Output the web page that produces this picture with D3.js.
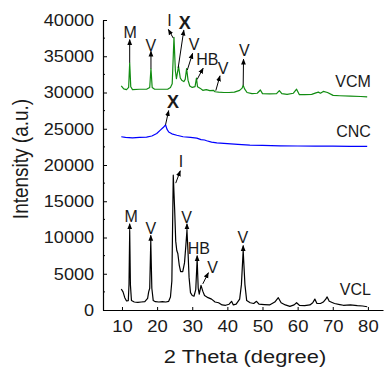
<!DOCTYPE html>
<html>
<head>
<meta charset="utf-8">
<script src="https://cdn.jsdelivr.net/npm/d3@7/dist/d3.min.js"></script>
<style>
  body { margin: 0; background: #fff; }
  text { font-family: Arial, "Liberation Sans", sans-serif; fill: #1a1a1a; }
</style>
</head>
<body>
<div id="container"></div>
<script>
// [2 theta, intensity]
const vcl = [
  [9.8,2900],[10.3,2500],[10.8,1700],[11.3,1250],[11.8,1300],[12.0,3500],[12.2,10900],[12.4,3500],
  [12.7,1300],[13.5,1100],[14.5,1050],[15.5,1100],[16.5,1150],[17.3,1600],[17.6,2500],[17.9,3000],
  [18.2,9500],[18.5,3000],[18.9,1300],[19.5,1150],[20.5,1100],[21.5,1150],[22.5,1100],[23.3,1200],
  [23.8,1800],[24.2,4000],[24.6,18600],[25.0,13800],[25.3,9500],[25.6,8200],[25.9,7800],[26.3,6200],
  [26.7,5300],[27.3,5300],[27.8,6500],[28.2,9000],[28.5,11000],[28.8,8000],[29.1,4500],[29.5,2400],
  [30.0,2000],[30.5,1900],[31.0,2800],[31.4,7000],[31.7,3000],[32.0,2200],[32.5,3400],[33.0,2600],
  [33.5,2000],[34.5,1700],[35.5,1500],[36.5,1100],[37.5,1000],[38.5,700],[39.5,650],[40.5,800],
  [41.2,1200],[41.7,700],[42.5,800],[43.5,1500],[44.0,3500],[44.5,8200],[45.0,3500],[45.5,1300],
  [46.5,1000],[47.5,900],[48.3,1200],[49.0,800],[50.5,750],[52.0,700],[53.5,1100],[54.5,1700],
  [55.3,1000],[56.5,700],[57.8,500],[59.0,700],[59.7,1000],[60.5,650],[62.0,600],[63.5,700],
  [64.3,1000],[64.9,1500],[65.5,900],[66.5,900],[67.3,1100],[68.0,1500],[68.4,1800],[69.0,1200],
  [70.5,900],[72.0,750],[73.0,650],[75.0,700],[77.0,600],[78.5,550],[79.8,450]
];
const cnc = [
  [9.8,23900],[11,23800],[13,23750],[15,23800],[17,23850],[18.5,24000],[19.9,24350],[21.0,24850],
  [21.8,25200],[22.4,25550],[22.8,24950],[23.3,24550],[24.2,24300],[25.6,24100],[27.4,23900],
  [29.5,23800],[31.3,23700],[32.5,23500],[33.5,23450],[34.1,23350],[35.5,23150],[37,23050],
  [40,22950],[43,22850],[46.4,22750],[50,22700],[55,22650],[60,22620],[65,22600],[70,22600],
  [75,22580],[79.8,22580]
];
const vcm = [
  [9.8,30900],[10.5,30500],[11.3,30400],[11.9,30700],[12.2,34100],[12.5,30800],[13,30400],[15,30450],
  [17,30450],[17.9,30700],[18.25,33300],[18.6,30700],[19.3,30450],[21,30450],[23,30450],[23.8,30700],
  [24.3,31200],[24.8,37600],[25.2,33000],[25.5,31900],[26.1,33600],[26.6,32000],[27.0,31700],
  [27.6,31500],[28.0,31800],[28.4,33300],[28.8,31700],[29.3,30900],[30,30700],[30.8,30800],
  [31.2,32000],[31.5,30800],[32.2,30600],[33,30300],[34,30400],[35,30250],[36,30300],[36.5,30100],
  [37.5,30050],[39,30000],[40.5,30000],[42,30050],[43.5,30300],[44.2,30600],[44.5,31000],[44.9,30500],
  [45.6,30000],[47,29850],[48.5,29900],[49.4,30350],[50,29850],[52,29800],[54,29850],[54.8,30250],
  [55.5,29850],[57,29750],[58.8,29900],[59.7,30450],[60.5,29700],[62,29700],[64,29750],[65.2,29950],
  [65.9,30050],[66.5,29900],[67.3,30150],[68.5,30000],[70.1,29600],[72,29550],[75,29500],[78,29450],
  [79.8,29400]
];

const xTicks = [10, 20, 30, 40, 50, 60, 70, 80];
const yTicks = [0, 5000, 10000, 15000, 20000, 25000, 30000, 35000, 40000];
const yMinor = [2500, 7500, 12500, 17500, 22500, 27500, 32500, 37500];

// peak labels: arrow from peak to label, in data units
const notes = [
  {t: "M",  from: [12.2, 34100], to: [12.2, 37300], at: [12.3, 38350]},
  {t: "V",  from: [18.25, 33300], to: [18.25, 35700], at: [18.25, 36550]},
  {t: "I",  from: [24.6, 37500], to: [23.2, 38700], at: [23.5, 40000]},
  {t: "X",  from: [26.0, 33400], to: [27.6, 38600], at: [27.9, 39650], bold: true},
  {t: "V",  from: [28.6, 33100], to: [30.1, 35400], at: [30.5, 36700]},
  {t: "HB", from: [31.4, 31800], to: [33.1, 33350], at: [34.3, 34500]},
  {t: "V",  from: [36.7, 30250], to: [37.9, 32300], at: [38.8, 33350]},
  {t: "V",  from: [44.5, 31000], to: [44.6, 34600], at: [44.8, 35800]},
  {t: "X",  from: [22.4, 25550], to: [23.3, 27500], at: [24.5, 28700], bold: true},
  {t: "M",  from: [12.2, 10900], to: [12.2, 11900], at: [12.6, 12950]},
  {t: "V",  from: [18.2, 9500], to: [18.2, 10300], at: [18.25, 11300]},
  {t: "I",  from: [25.3, 17500], to: [26.6, 19200], at: [26.8, 20450]},
  {t: "V",  from: [28.5, 11000], to: [28.5, 11900], at: [28.4, 12750]},
  {t: "HB", from: [31.4, 7000], to: [31.4, 7500], at: [31.9, 8500]},
  {t: "V",  from: [33.0, 3600], to: [34.6, 5150], at: [35.8, 5900]},
  {t: "V",  from: [44.5, 8200], to: [44.5, 8900], at: [44.4, 10050]}
];

const width = 386, height = 368;

const svg = d3.select("#container")
    .append("svg")
    .attr("width", width)
    .attr("height", height);

const x = d3.scaleLinear().domain([4.6, 84.3]).range([103, 383]);
const y = d3.scaleLinear().domain([0, 40000]).range([310, 20]);

const line = d3.line()
    .x(d => x(d[0]))
    .y(d => y(d[1]));

// axes, ticks point inward
const xAxis = svg.append("g")
    .attr("transform", "translate(0,310)")
    .call(d3.axisBottom(x).tickValues(xTicks).tickFormat(d3.format("d"))
        .tickSize(-3).tickPadding(6).tickSizeOuter(0));
xAxis.selectAll("text")
    .attr("font-size", 16.5)
    .attr("dy", "0.95em")
    .attr("transform", "scale(1.12,1)");

const yAxis = svg.append("g")
    .attr("transform", "translate(103,0)")
    .call(d3.axisLeft(y).tickValues(yTicks).tickFormat(d3.format("d"))
        .tickSize(-4).tickPadding(8).tickSizeOuter(0));
yAxis.selectAll("text")
    .attr("font-size", 16.5)
    .attr("transform", "scale(1.1,1)");
yAxis.selectAll(".minor")
    .data(yMinor)
    .join("line")
    .attr("x1", 0).attr("x2", 2)
    .attr("y1", d => y(d)).attr("y2", d => y(d))
    .attr("stroke", "#000");

svg.selectAll(".domain").attr("stroke", "#000").attr("stroke-width", 1.2);
svg.selectAll(".tick line").attr("stroke", "#000");
svg.selectAll(".tick text").attr("fill", "#1a1a1a");

// titles
svg.append("text")
    .attr("transform", "translate(245,363) scale(1.15,1)")
    .attr("text-anchor", "middle")
    .attr("font-size", 19)
    .text("2 Theta (degree)");
svg.append("text")
    .attr("transform", "translate(28,159) rotate(-90) scale(1,1.12)")
    .attr("text-anchor", "middle")
    .attr("font-size", 19)
    .text("Intensity (a.u.)");

// curves
const series = [
  {name: "VCL", data: vcl, color: "#000000", labelY: 2900},
  {name: "CNC", data: cnc, color: "#0000ff", labelY: 24600},
  {name: "VCM", data: vcm, color: "#118c11", labelY: 31500}
];
svg.append("g")
    .selectAll("path")
    .data(series)
    .join("path")
    .attr("d", d => line(d.data))
    .attr("fill", "none")
    .attr("stroke", d => d.color)
    .attr("stroke-width", 1.2)
    .attr("stroke-linejoin", "round");

svg.append("g")
    .selectAll("text")
    .data(series)
    .join("text")
    .attr("x", x(80) + 3)
    .attr("y", d => y(d.labelY))
    .attr("dy", "0.35em")
    .attr("text-anchor", "end")
    .attr("font-size", 16)
    .text(d => d.name);

// arrows + peak labels
svg.append("defs").append("marker")
    .attr("id", "head")
    .attr("viewBox", "0 0 10 10")
    .attr("refX", 9).attr("refY", 5)
    .attr("markerWidth", 6).attr("markerHeight", 6)
    .attr("orient", "auto")
    .attr("markerUnits", "userSpaceOnUse")
    .append("path")
    .attr("d", "M0,1L10,5L0,9Z")
    .attr("fill", "#000");

const ann = svg.append("g");
ann.selectAll("line")
    .data(notes)
    .join("line")
    .attr("x1", d => x(d.from[0])).attr("y1", d => y(d.from[1]))
    .attr("x2", d => x(d.to[0])).attr("y2", d => y(d.to[1]))
    .attr("stroke", "#000")
    .attr("stroke-width", 1)
    .attr("marker-end", "url(#head)");
ann.selectAll("text")
    .data(notes)
    .join("text")
    .attr("x", d => x(d.at[0]))
    .attr("y", d => y(d.at[1]))
    .attr("dy", "0.35em")
    .attr("text-anchor", "middle")
    .attr("font-size", d => d.bold ? 18 : 16)
    .attr("font-weight", d => d.bold ? "bold" : "normal")
    .text(d => d.t);
</script>
</body>
</html>
